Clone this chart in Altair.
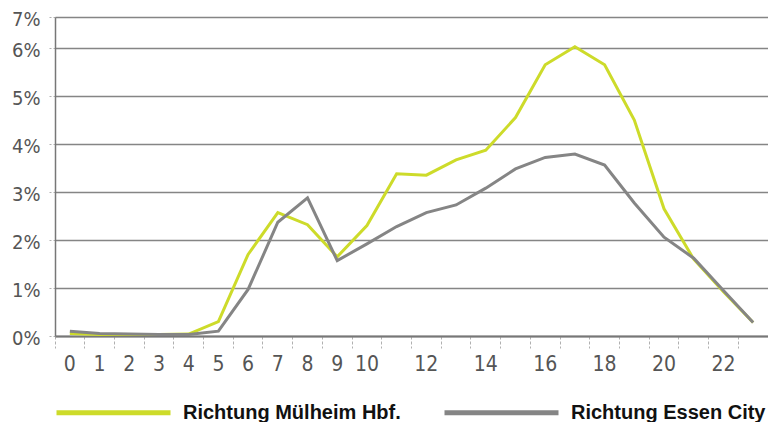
import altair as alt
import pandas as pd

hours = list(range(24))
muelheim = [0.05, 0.03, 0.03, 0.03, 0.04, 0.3, 1.7, 2.57, 2.32, 1.65, 2.3, 3.38, 3.35, 3.67, 3.87, 4.55, 5.65, 6.04, 5.65, 4.5, 2.65, 1.6, 0.92, 0.28]
essen = [0.1, 0.05, 0.04, 0.03, 0.03, 0.1, 0.97, 2.37, 2.88, 1.57, 1.92, 2.28, 2.57, 2.73, 3.08, 3.48, 3.72, 3.79, 3.56, 2.77, 2.06, 1.62, 0.95, 0.28]
series_names = ["Richtung Mülheim Hbf.", "Richtung Essen City"]
series_colors = ["#cddb2a", "#858585"]
y_ticks = [0, 1, 2, 3, 4, 5, 6, 7]

rows = []
for name, vals in zip(series_names, [muelheim, essen]):
    for h, v in zip(hours, vals):
        rows.append({"hour": h, "value": v, "series": name})
df = pd.DataFrame(rows)

W, H = 713, 319
NARROW = "DejaVu Sans Condensed, Liberation Sans Narrow, Roboto Condensed, sans-serif"

chart = alt.Chart(df).mark_line(strokeWidth=3).encode(
    x=alt.X("hour:O", bandPosition=0.5,
            scale=alt.Scale(type="band", paddingInner=0, paddingOuter=0),
            axis=alt.Axis(title=None, bandPosition=0,
                          labelExpr="datum.value > 10 && datum.value % 2 == 1 ? '' : datum.label",
                          labelOverlap=False, labelAngle=0,
                          labelFont=NARROW, labelFontSize=21, labelColor="#555555",
                          labelPadding=5, tickSize=12, tickColor="#b0b0b0", tickDash=[3, 2],
                          domainColor="#777777", domainWidth=2, grid=False)),
    y=alt.Y("value:Q",
            scale=alt.Scale(domain=[0, 6, 7], range=[H, 31, 0], nice=False, zero=False),
            axis=alt.Axis(title=None, values=y_ticks, labelExpr="datum.value + '%'",
                          labelFont=NARROW, labelFontSize=20, labelColor="#555555",
                          labelPadding=7, labelOffset=2, tickSize=8, tickColor="#b0b0b0", tickDash=[2, 2],
                          domainColor="#777777", domainWidth=1.5,
                          grid=True, gridColor="#858585", gridWidth=1.6)),
    color=alt.Color("series:N",
                    scale=alt.Scale(domain=series_names, range=series_colors),
                    sort=series_names,
                    legend=alt.Legend(title=None, orient="none", legendX=-1, legendY=336,
                                      direction="horizontal", symbolType="stroke",
                                      symbolSize=114 * 114, symbolStrokeWidth=5,
                                      labelFont="Liberation Sans", labelFontSize=20,
                                      labelFontWeight="bold", labelColor="#111111",
                                      labelLimit=400,
                                      labelOffset=10, columnPadding=33, padding=0)),
    order=alt.Order("series:N", sort="descending"),
).properties(
    width=W, height=H,
    autosize=alt.AutoSizeParams(type="none"),
    padding={"left": 47, "top": 9, "right": 0, "bottom": 86},
).configure_view(stroke=None).configure(background="white")

chart.save("out.html", embed_options={"renderer": "svg", "actions": False})
